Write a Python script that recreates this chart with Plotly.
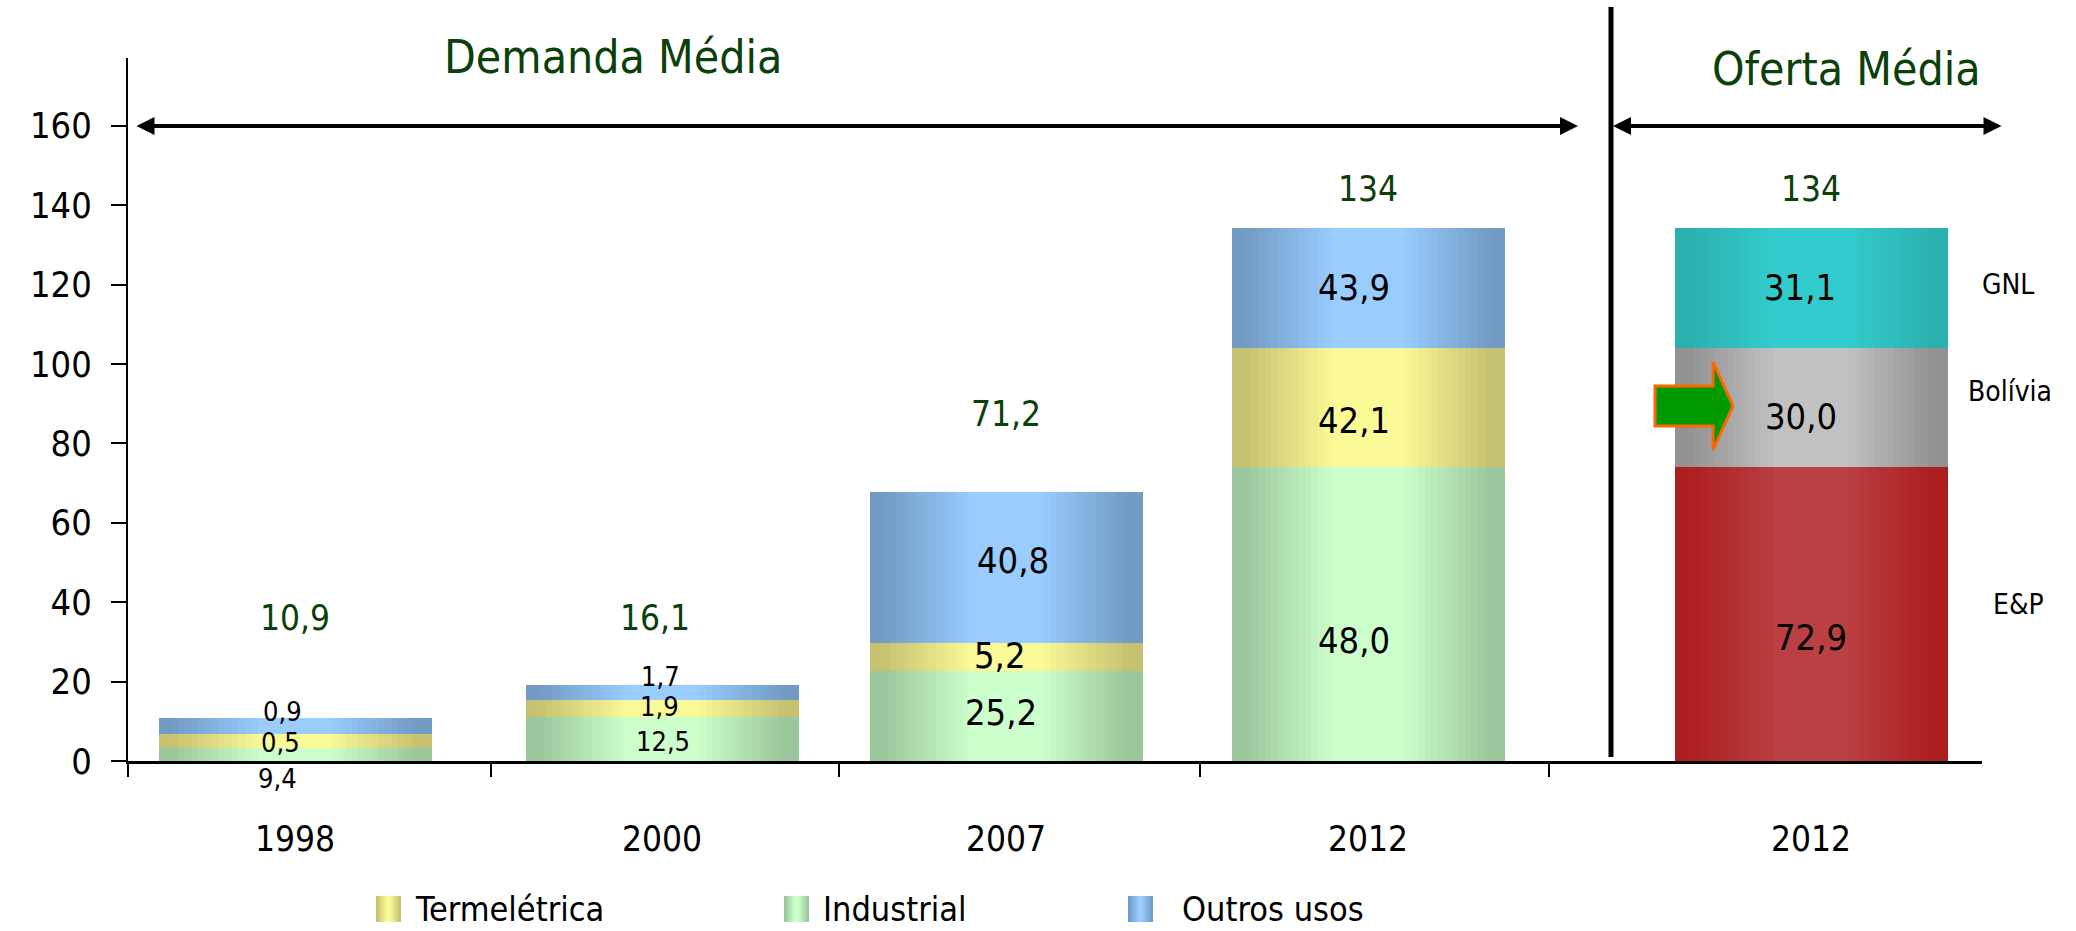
import plotly.graph_objects as go

# ---------------- data ----------------
categories = ["1998", "2000", "2007", "2012"]
supply_category = "2012"

# segment heights as drawn in the chart
industrial = [3.3, 11.1, 22.7, 74.0]
termeletrica = [3.5, 4.3, 7.0, 30.0]
outros_usos = [4.0, 3.7, 38.1, 30.3]

# values printed on the segments
industrial_lbl = [9.4, 12.5, 25.2, 48.0]
termeletrica_lbl = [0.5, 1.9, 5.2, 42.1]
outros_usos_lbl = [0.9, 1.7, 40.8, 43.9]
demand_total = [10.9, 16.1, 71.2, 134]

supply_names = ["E&P", "Bolívia", "GNL"]
supply = [74.0, 30.0, 30.3]
supply_lbl = [72.9, 30.0, 31.1]
supply_total = 134

y_ticks = [0, 20, 40, 60, 80, 100, 120, 140, 160]

# ---------------- layout constants ----------------
W, H = 2076, 931
ML, MR, MT, MB = 128, 94, 58, 170
PW, PH = W - ML - MR, H - MT - MB
Y_MAX = 177.1
X_MAX = PW / 100.0
bar_x = [1.67, 5.34, 8.78, 12.40]
supply_x = 16.83
bar_w = 2.73
sep_ticks = [0, 3.63, 7.11, 10.72, 14.21]

FONT = "DejaVu Sans Condensed, DejaVu Sans, sans-serif"
DARK_GREEN = "#0B400B"

COLORS = {
    "Industrial": ("#9CC69C", "#CCFFCC"),
    "Termelétrica": ("#C6C272", "#FAFA96"),
    "Outros usos": ("#729BC4", "#99CCFF"),
    "E&P": ("#AD1E1F", "#BA4043"),
    "Bolívia": ("#929292", "#C2C2C2"),
    "GNL": ("#2BB0AF", "#33CCCC"),
}


def px_x(p):
    return (p - ML) / PW


def px_y(p):
    return (H - MB - p) / PH


def mix(c1, c2, f):
    a = [int(c1[i:i + 2], 16) for i in (1, 3, 5)]
    b = [int(c2[i:i + 2], 16) for i in (1, 3, 5)]
    return "rgb(%d,%d,%d)" % tuple(round(a[j] + (b[j] - a[j]) * f) for j in range(3))


def fmt(v):
    return f"{v:.0f}" if v >= 100 else f"{v:.1f}".replace(".", ",")


fig = go.Figure()

N_STEPS = 16
T_IN, T_OUT = 0.27, 0.92


def gradient_bars(xs, heights, bases, name):
    edge, center = COLORS[name]
    for k in range(N_STEPS):
        w = 1.0 - k * (1.0 - T_IN) / (N_STEPS - 1)
        f = min(1.0, max(0.0, (T_OUT - w) / (T_OUT - T_IN)))
        fig.add_trace(go.Bar(
            x=xs, y=heights, base=bases, width=[bar_w * w] * len(xs),
            name=name, marker=dict(color=mix(edge, center, f), line=dict(width=0)),
            showlegend=False, hoverinfo="skip" if k else "name+y",
        ))


base0 = [0] * len(categories)
base1 = industrial
base2 = [a + b for a, b in zip(industrial, termeletrica)]
gradient_bars(bar_x, industrial, base0, "Industrial")
gradient_bars(bar_x, termeletrica, base1, "Termelétrica")
gradient_bars(bar_x, outros_usos, base2, "Outros usos")

s_bases = [0, supply[0], supply[0] + supply[1]]
for nm, h, b in zip(supply_names, supply, s_bases):
    gradient_bars([supply_x], [h], [b], nm)

annotations = []


def note(**kw):
    kw.setdefault("showarrow", False)
    kw.setdefault("xanchor", "center")
    kw.setdefault("yanchor", "middle")
    annotations.append(kw)


# segment labels
seg_shift = {
    "ind": [(-18, -24), (1, -3), (-5, 3), (-14, -26)],
    "ter": [(-15, -2), (-3, 2), (-6, 2), (-14, -13)],
    "out": [(-13, 15), (-2, 16), (7, 7), (-14, 1)],
}
small = [True, True, False, False]
for key, vals, hs, bs in (("ind", industrial_lbl, industrial, base0),
                          ("ter", termeletrica_lbl, termeletrica, base1),
                          ("out", outros_usos_lbl, outros_usos, base2)):
    for i, v in enumerate(vals):
        dx, dy = seg_shift[key][i]
        note(x=bar_x[i], y=bs[i] + hs[i] / 2, xref="x", yref="y", text=fmt(v),
             xshift=dx, yshift=dy,
             font=dict(size=27 if small[i] else 36, color="black", family=FONT))

supply_shift = [(0, -23), (-10, -9), (-11, 1)]
for i, v in enumerate(supply_lbl):
    dx, dy = supply_shift[i]
    note(x=supply_x, y=s_bases[i] + supply[i] / 2, xref="x", yref="y", text=fmt(v),
         xshift=dx, yshift=dy, font=dict(size=36, color="black", family=FONT))

# totals
total_y = [36, 36, 87.4, 144]
total_dx = [0, -7, 0, 0]
for i, v in enumerate(demand_total):
    note(x=bar_x[i], y=total_y[i], xref="x", yref="y", text=fmt(v),
         xshift=total_dx[i], font=dict(size=35, color=DARK_GREEN, family=FONT))
note(x=supply_x, y=144, xref="x", yref="y", text=fmt(supply_total),
     font=dict(size=35, color=DARK_GREEN, family=FONT))

# supply side names
name_pos = [(2019, 604), (2010, 391), (2008, 284)]
for nm, (px, py) in zip(supply_names, name_pos):
    note(x=px_x(px), y=px_y(py), xref="paper", yref="paper", text=nm,
         font=dict(size=28, color="black", family=FONT))

# section titles
note(x=px_x(613), y=px_y(57), xref="paper", yref="paper", text="Demanda Média",
     font=dict(size=46, color=DARK_GREEN, family=FONT))
note(x=px_x(1846), y=px_y(69), xref="paper", yref="paper", text="Oferta Média",
     font=dict(size=46, color=DARK_GREEN, family=FONT))

# double arrows
for x_head, x_tail in ((14.50, 0.07), (14.85, 18.75)):
    annotations.append(dict(
        x=x_head, y=160, ax=x_tail, ay=160, xref="x", yref="y", axref="x", ayref="y",
        text="", showarrow=True, arrowhead=2, arrowside="end+start",
        arrowsize=0.9, arrowwidth=4, arrowcolor="black"))

shapes = []
# separator line
shapes.append(dict(type="line", xref="paper", yref="paper",
                   x0=px_x(1611), x1=px_x(1611), y0=px_y(757), y1=px_y(7),
                   line=dict(color="black", width=5)))

# green arrow pointing at Bolívia
pts = [(1655, 386), (1713, 386), (1713, 362), (1733, 406), (1713, 450), (1713, 426), (1655, 426)]
path = "M " + " L ".join(f"{px_x(a):.5f},{px_y(b):.5f}" for a, b in pts) + " Z"
shapes.append(dict(type="path", xref="paper", yref="paper", path=path,
                   fillcolor="#009900", line=dict(color="#FF6600", width=3)))

# legend (manual, gradient swatches)
legend_items = [("Termelétrica", 376, 413), ("Industrial", 784, 821), ("Outros usos", 1128, 1180)]
for nm, sx, tx in legend_items:
    edge, center = COLORS[nm]
    sw = 25
    for k in range(6):
        f = k / 5
        inset = k * sw * 0.08
        shapes.append(dict(type="rect", xref="paper", yref="paper",
                           x0=px_x(sx + inset), x1=px_x(sx + sw - inset),
                           y0=px_y(922), y1=px_y(896),
                           fillcolor=mix(edge, center, f), line=dict(width=0)))
    note(x=px_x(tx), y=px_y(909), xref="paper", yref="paper", text=nm, xanchor="left",
         font=dict(size=34, color="black", family=FONT))

fig.update_layout(
    width=W, height=H,
    margin=dict(l=ML, r=MR, t=MT, b=MB, pad=0),
    paper_bgcolor="white", plot_bgcolor="white",
    barmode="overlay", bargap=0,
    showlegend=False,
    font=dict(family=FONT, color="black"),
    annotations=annotations, shapes=shapes,
    xaxis=dict(range=[0, X_MAX], showgrid=False, zeroline=False,
               showline=True, linecolor="black", linewidth=3,
               tickmode="array", tickvals=bar_x + [supply_x],
               ticktext=categories + [supply_category],
               ticks="", ticklabelstandoff=45,
               tickfont=dict(size=35, family=FONT, color="black"),
               minor=dict(tickmode="array", tickvals=sep_ticks, ticks="outside",
                          ticklen=13, tickwidth=2, tickcolor="black")),
    yaxis=dict(range=[0, Y_MAX], showgrid=False, zeroline=False,
               showline=True, linecolor="black", linewidth=2,
               tickmode="array", tickvals=y_ticks, ticks="outside",
               ticklen=15, tickwidth=2, tickcolor="black",
               ticklabelstandoff=12,
               tickfont=dict(size=36, family=FONT, color="black")),
)

fig.write_html("out.html", config={"displayModeBar": False},
               post_script="document.body.style.margin='0';")
